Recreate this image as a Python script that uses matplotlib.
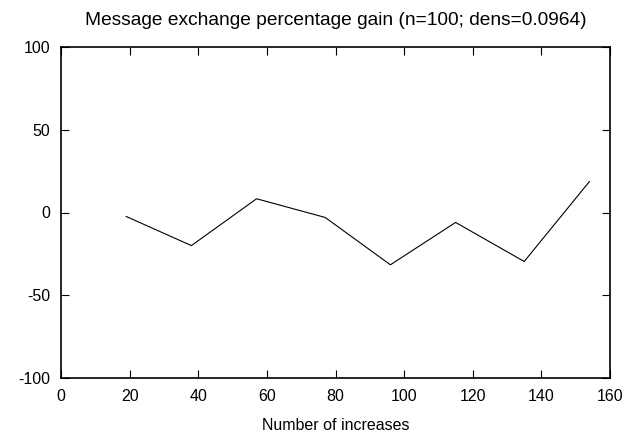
import matplotlib
matplotlib.use("Agg")
import matplotlib.pyplot as plt

# данные
increases = [19, 38, 57, 77, 96, 115, 135, 154]
gain_pct = [-2.4, -20, 8.3, -3, -31.6, -6, -29.6, 18.7]

x_ticks = [0, 20, 40, 60, 80, 100, 120, 140, 160]
y_ticks = [-100, -50, 0, 50, 100]

plt.rcParams["font.family"] = ["Liberation Sans", "DejaVu Sans"]
plt.rcParams["font.size"] = 11.5
plt.rcParams["axes.unicode_minus"] = False

fig = plt.figure(figsize=(6.29, 4.34), dpi=100)
ax = fig.add_axes([61 / 629, 1 - 378 / 434, (610 - 61) / 629, (378 - 47) / 434])

ax.plot(increases, gain_pct, color="black", lw=0.8)

ax.set_xlim(0, 160)
ax.set_ylim(-100, 100)
ax.set_xticks(x_ticks)
ax.set_yticks(y_ticks)
ax.tick_params(direction="in", top=True, right=True, length=6, width=0.8, pad=8)
for s in ax.spines.values():
    s.set_linewidth(1.2)

ax.set_xlabel("Number of increases", labelpad=10)
ax.set_title("Message exchange percentage gain (n=100; dens=0.0964)", pad=16)

fig.savefig("out.png", dpi=100)
